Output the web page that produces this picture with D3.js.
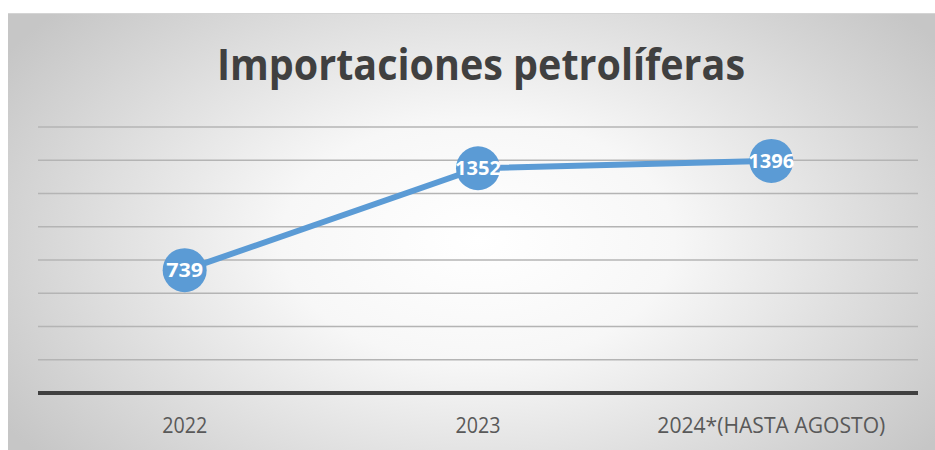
<!DOCTYPE html>
<html>
<head>
<meta charset="utf-8">
<script src="https://cdn.jsdelivr.net/npm/d3@7"></script>
<style>
  html, body { margin: 0; padding: 0; background: #fff; }
  svg { display: block; }
</style>
</head>
<body>
<div id="chart"></div>
<script>
// DATA
const categories = ["2022", "2023", "2024*(HASTA AGOSTO)"];
const imports = [739, 1352, 1396];
const yTicks = [0, 200, 400, 600, 800, 1000, 1200, 1400, 1600];
const chartTitle = "Importaciones petrolíferas";

// SIZES
const svgWidth = 935;
const svgHeight = 450;
const margin = { top: 127, right: 17, bottom: 57, left: 38 };
const width = svgWidth - margin.left - margin.right;
const height = svgHeight - margin.top - margin.bottom;
const blue = "#5b9bd5";
const font = "'Open Sans', 'Noto Sans', sans-serif";

const svg = d3.select("#chart")
  .append("svg")
  .attr("width", svgWidth)
  .attr("height", svgHeight);

// BACKGROUND (radial gradient, white in the middle)
const defs = svg.append("defs");
const grad = defs.append("radialGradient")
  .attr("id", "bg")
  .attr("gradientUnits", "userSpaceOnUse")
  .attr("cx", 478).attr("cy", 240).attr("r", 560)
  .attr("gradientTransform", "translate(478,240) scale(1,0.62) translate(-478,-240)");
grad.append("stop").attr("offset", "0%").attr("stop-color", "#ffffff");
grad.append("stop").attr("offset", "35%").attr("stop-color", "#f7f7f7");
grad.append("stop").attr("offset", "100%").attr("stop-color", "#c6c6c6");

svg.append("rect")
  .attr("x", 8).attr("y", 13)
  .attr("width", svgWidth - 8).attr("height", svgHeight - 13)
  .attr("fill", "url(#bg)");
svg.append("line")
  .attr("x1", 8).attr("x2", svgWidth)
  .attr("y1", 13.5).attr("y2", 13.5)
  .attr("stroke", "#d4d4d4").attr("stroke-width", 1);

// TITLE
svg.append("text")
  .attr("x", 481).attr("y", 80)
  .attr("text-anchor", "middle")
  .attr("font-family", font)
  .attr("font-weight", "bold")
  .attr("font-size", 43)
  .attr("fill", "#404040")
  .attr("textLength", 528)
  .attr("lengthAdjust", "spacingAndGlyphs")
  .text(chartTitle);

const g = svg.append("g")
  .attr("transform", `translate(${margin.left},${margin.top})`);

// SCALES
const xScale = d3.scaleBand().domain(categories).range([0, width]);
const yScale = d3.scaleLinear().domain([0, 1600]).range([height, 0]);

// GRIDLINES
g.selectAll(".grid")
  .data(yTicks.filter(d => d > 0))
  .enter()
  .append("line")
  .attr("class", "grid")
  .attr("x1", 0).attr("x2", width)
  .attr("y1", d => yScale(d)).attr("y2", d => yScale(d))
  .attr("stroke", "#b4b4b4")
  .attr("stroke-width", 1.3);

// X AXIS
const xAxis = d3.axisBottom(xScale).tickSize(0).tickPadding(25);
const xg = g.append("g")
  .attr("transform", `translate(0,${height})`)
  .call(xAxis);
xg.select(".domain")
  .attr("stroke", "#404040")
  .attr("stroke-width", 4)
  .attr("d", `M0,0H${width}`);
xg.selectAll("text")
  .attr("font-family", font)
  .attr("font-size", 21)
  .attr("fill", "#595959");
xg.selectAll(".tick text").each(function (d) {
  const w = d.length > 6 ? 228 : 45;
  d3.select(this).attr("textLength", w).attr("lengthAdjust", "spacingAndGlyphs");
});

// LINE
const cx = d => xScale(d) + xScale.bandwidth() / 2;
const line = d3.line()
  .x((d, i) => cx(categories[i]))
  .y(d => yScale(d));

g.append("path")
  .datum(imports)
  .attr("fill", "none")
  .attr("stroke", blue)
  .attr("stroke-width", 6)
  .attr("stroke-linecap", "round")
  .attr("d", line);

// MARKERS + LABELS
const pts = g.selectAll(".pt")
  .data(imports)
  .enter()
  .append("g")
  .attr("class", "pt")
  .attr("transform", (d, i) => `translate(${cx(categories[i])},${yScale(d)})`);

pts.append("circle")
  .attr("r", 22)
  .attr("fill", blue);

pts.append("text")
  .attr("text-anchor", "middle")
  .attr("dy", "0.36em")
  .attr("font-family", font)
  .attr("font-weight", "bold")
  .attr("font-size", 20)
  .attr("fill", "#ffffff")
  .attr("textLength", d => String(d).length > 3 ? 46 : 37)
  .attr("lengthAdjust", "spacingAndGlyphs")
  .text(d => d);
</script>
</body>
</html>
